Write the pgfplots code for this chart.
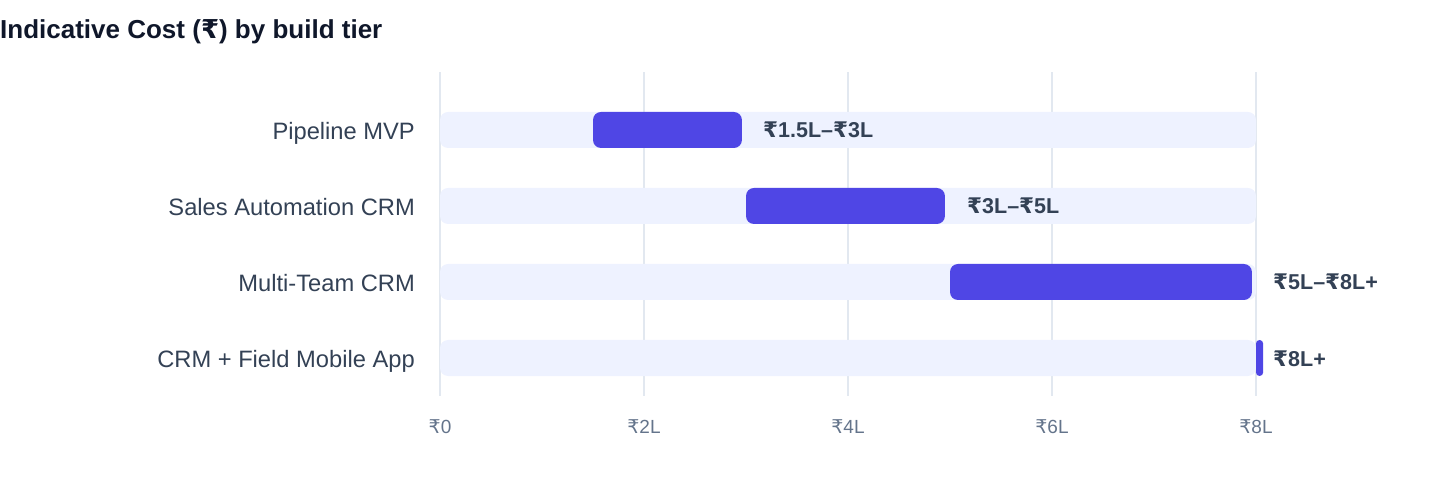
\documentclass[border=0pt]{standalone}
\usepackage{fontspec}
\setmainfont{Liberation Sans}
\newfontfamily\rupeefont{DejaVu Sans}
\newcommand{\rs}{{\rupeefont ₹}}
\usepackage{pgfplots}
\pgfplotsset{compat=1.18}
\definecolor{cBar}{HTML}{4F46E5}
\definecolor{cTrack}{HTML}{EEF2FF}
\definecolor{cGrid}{HTML}{E2E8F0}
\definecolor{cTitle}{HTML}{0F172A}
\definecolor{cLabel}{HTML}{334155}
\definecolor{cTick}{HTML}{64748B}

% shared frame for the track axis and the range axis
\pgfplotsset{
  rowaxis/.style={
    at={(440pt,88pt)}, anchor=south west, scale only axis,
    width=816pt, height=324pt,
    xmin=0, xmax=8, ymin=-0.763, ymax=3.5, y dir=reverse,
    clip=false, bar width=36pt,
  },
}

\begin{document}
\begin{tikzpicture}
\path[use as bounding box] (0,0) rectangle (1440pt,484pt);
\node[anchor=base west, inner sep=0pt, text=cTitle,
      font=\fontsize{26}{30}\selectfont\bfseries] at (0pt,445pt)
  {Indicative Cost (\rs) by build tier};

% --- tracks, grid, ticks, range labels ---
\begin{axis}[rowaxis, xbar, bar shift=0pt,
  axis line style={draw=none}, major tick length=0pt,
  xmajorgrids, grid style={cGrid, line width=1.5pt},
  xtick={0,2,4,6,8},
  xticklabels={\rs0,\rs2L,\rs4L,\rs6L,\rs8L},
  ytick={0,1,2,3},
  yticklabels={Pipeline MVP, Sales Automation CRM, Multi-Team CRM, CRM + Field Mobile App},
  xticklabel style={anchor=base, inner sep=0pt, yshift=-37pt, text=cTick,
    font=\fontsize{19}{22}\selectfont},
  yticklabel style={anchor=base east, inner sep=0pt, xshift=-25pt, yshift=-10pt,
    text=cLabel, font=\fontsize{23.7}{27}\selectfont},
  ]
  \addplot[fill=cTrack, draw=none, rounded corners=8pt] coordinates {
    (8,0) (8,1) (8,2) (8,3)
  };
  \addplot[draw=none, fill=none, nodes near coords, point meta=explicit symbolic,
    nodes near coords style={anchor=base west, inner sep=0pt, xshift=17pt, yshift=-8pt,
      text=cLabel, font=\fontsize{21.5}{24}\selectfont\bfseries}]
  coordinates {
    (3,0) [\rs1.5L–\rs3L]
    (5,1) [\rs3L–\rs5L]
    (8,2) [\rs5L–\rs8L+]
    (8,3) [\rs8L+]
  };
\end{axis}

% --- cost ranges (start offset + length) ---
\begin{axis}[rowaxis, hide axis, xbar stacked]
  \addplot[draw=none, fill=none] coordinates {
    (1.5,0) (3,1) (5,2) (8,3)
  };
  \addplot[fill=cBar, draw=none, rounded corners=8pt] coordinates {
    (1.46,0) (1.95,1) (2.96,2) (0,3)
  };
  \addplot[fill=cBar, draw=none, rounded corners=3.5pt] coordinates {
    (0,0) (0,1) (0,2) (0.07,3)
  };
\end{axis}
\end{tikzpicture}
\end{document}
